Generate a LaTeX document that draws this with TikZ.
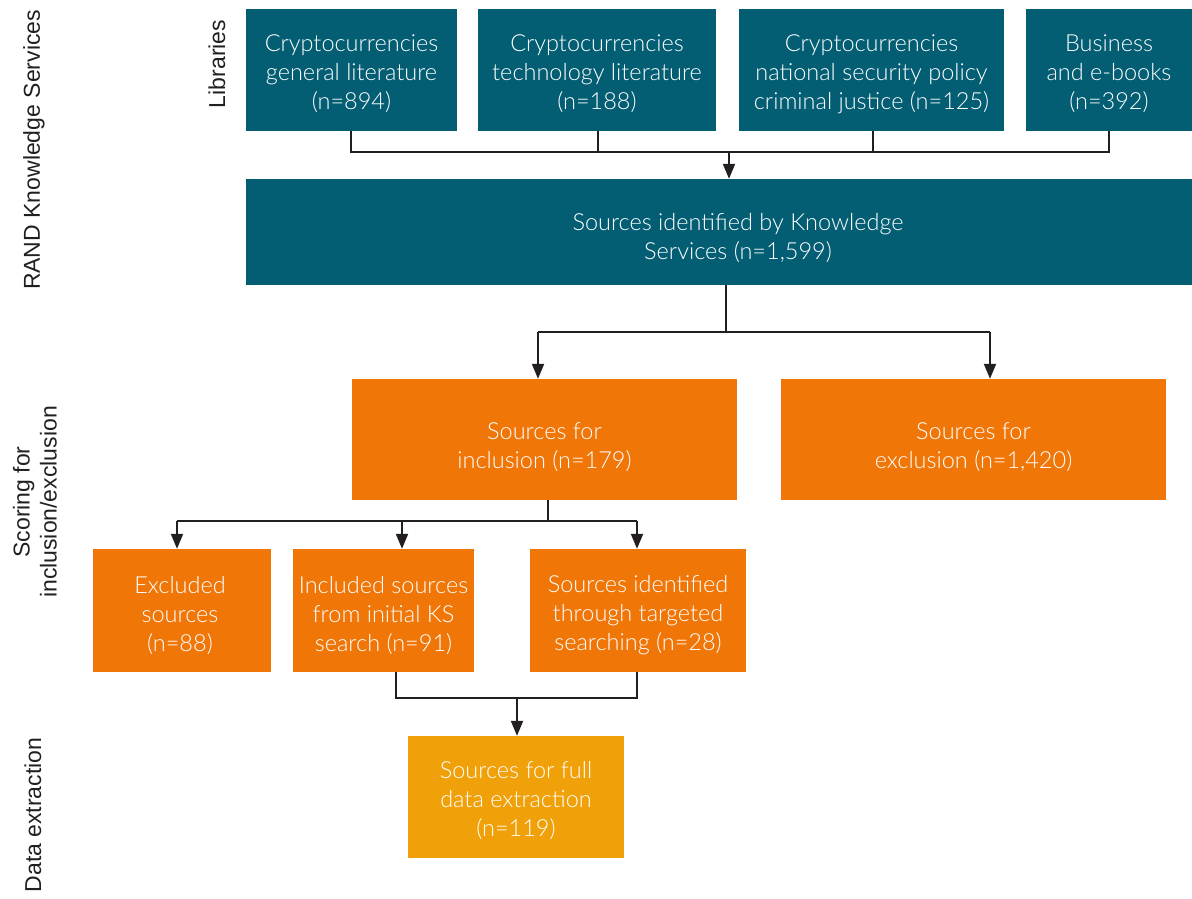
\documentclass[tikz,border=0pt]{standalone}
\usepackage{fontspec}
\setmainfont{Liberation Sans}
\newfontfamily\boxfont{Lato}[UprightFont=* Light]
\usetikzlibrary{arrows.meta}
\definecolor{teal}{HTML}{035E73}
\definecolor{orng}{HTML}{F07608}
\definecolor{gold}{HTML}{F0A008}
\definecolor{ink}{HTML}{231F20}
\tikzset{
  bx/.style={inner sep=0pt},
  txt/.style={inner sep=0pt, align=center, text=white, font=\boxfont\fontsize{23.5}{29}\selectfont},
  tealbox/.style={bx, fill=teal},
  orngbox/.style={bx, fill=orng},
  goldbox/.style={bx, fill=gold},
  conn/.style={draw=ink, line width=2pt},
  arr/.style={conn, -{Triangle[width=12pt,length=15pt]}},
  lbl/.style={rotate=90, align=center, text=ink, font=\fontsize{23}{27}\selectfont}
}
\begin{document}
\begin{tikzpicture}[x=1pt,y=-1pt]
\useasboundingbox (0,0) rectangle (1192,899);
% labels
\node[lbl] (l1) at (34,150) {RAND Knowledge Services};
\node[lbl] (l2) at (217,64) {Libraries};
\node[lbl] (l3) at (35,502) {Scoring for\\inclusion/exclusion};
\node[lbl] (l4) at (33,815) {Data extraction};
% boxes
\node[tealbox, minimum width=211pt, minimum height=122pt] (b1) at (351.5,70) {};
\node[tealbox, minimum width=238pt, minimum height=122pt] (b2) at (597,70) {};
\node[tealbox, minimum width=265pt, minimum height=122pt] (b3) at (871.5,70) {};
\node[tealbox, minimum width=166pt, minimum height=122pt] (b4) at (1109,70) {};
\node[tealbox, minimum width=946pt, minimum height=106pt] (big) at (719,232) {};
\node[orngbox, minimum width=385pt, minimum height=121pt] (inc) at (544.5,439.5) {};
\node[orngbox, minimum width=385pt, minimum height=121pt] (exc) at (973.5,439.5) {};
\node[orngbox, minimum width=178pt, minimum height=123pt] (r1) at (182,610.5) {};
\node[orngbox, minimum width=181pt, minimum height=123pt] (r2) at (383.5,610.5) {};
\node[orngbox, minimum width=216pt, minimum height=123pt] (r3) at (638,610.5) {};
\node[goldbox, minimum width=216pt, minimum height=122pt] (fin) at (516,797) {};
% box texts
\node[txt] (b1t) at ([yshift=-4pt]b1.center) {Cryptocurrencies\\general literature\\(n=894)};
\node[txt] (b2t) at ([yshift=-4pt]b2.center) {Cryptocurrencies\\technology literature\\(n=188)};
\node[txt] (b3t) at ([yshift=-4pt]b3.center) {Cryptocurrencies\\national security policy\\criminal justice (n=125)};
\node[txt] (b4t) at ([yshift=-4pt]b4.center) {Business\\and e-books\\(n=392)};
\node[txt] (bigt) at ([xshift=19pt,yshift=-6pt]big.center) {Sources identified by Knowledge\\Services (n=1,599)};
\node[txt] (inct) at ([yshift=-8pt]inc.center) {Sources for\\inclusion (n=179)};
\node[txt] (exct) at ([yshift=-8pt]exc.center) {Sources for\\exclusion (n=1,420)};
\node[txt] (r1t) at ([xshift=-2pt,yshift=-5pt]r1.center) {Excluded\\sources\\(n=88)};
\node[txt] (r2t) at ([yshift=-5pt]r2.center) {Included sources\\from initial KS\\search (n=91)};
\node[txt] (r3t) at ([yshift=-5pt]r3.center) {Sources identified\\through targeted\\searching (n=28)};
\node[txt] (fint) at ([yshift=-4pt]fin.center) {Sources for full\\data extraction\\(n=119)};
% connectors top
\coordinate (t1) at (351,131);
\coordinate (t4) at (1109,131);
\coordinate (tm) at (729,152);
\draw[conn] (t1) -- (351,152) -- (1109,152) -- (t4);
\draw[conn] (598,131) -- (598,152);
\draw[conn] (873,131) -- (873,152);
\draw[arr] (tm) -- (big.north -| tm);
% from big
\coordinate (bm) at (726,285);
\coordinate (bl) at (538,332);
\coordinate (br) at (990,332);
\draw[conn] (bm) -- (726,332);
\draw[conn] (bl) -- (br);
\draw[arr] (bl) -- (inc.north -| bl);
\draw[arr] (br) -- (exc.north -| br);
% from inclusion
\coordinate (im) at (548,500);
\coordinate (i1) at (177,521);
\coordinate (i2) at (402,521);
\coordinate (i3) at (637,521);
\draw[conn] (im) -- (548,521);
\draw[conn] (i1) -- (i3);
\draw[arr] (i1) -- (r1.north -| i1);
\draw[arr] (i2) -- (r2.north -| i2);
\draw[arr] (i3) -- (r3.north -| i3);
% to final
\coordinate (a1) at (396,672);
\coordinate (a2) at (637,672);
\coordinate (am) at (517,698);
\draw[conn] (a1) -- (396,698) -- (637,698) -- (a2);
\draw[arr] (am) -- (fin.north -| am);
\end{tikzpicture}
\end{document}
